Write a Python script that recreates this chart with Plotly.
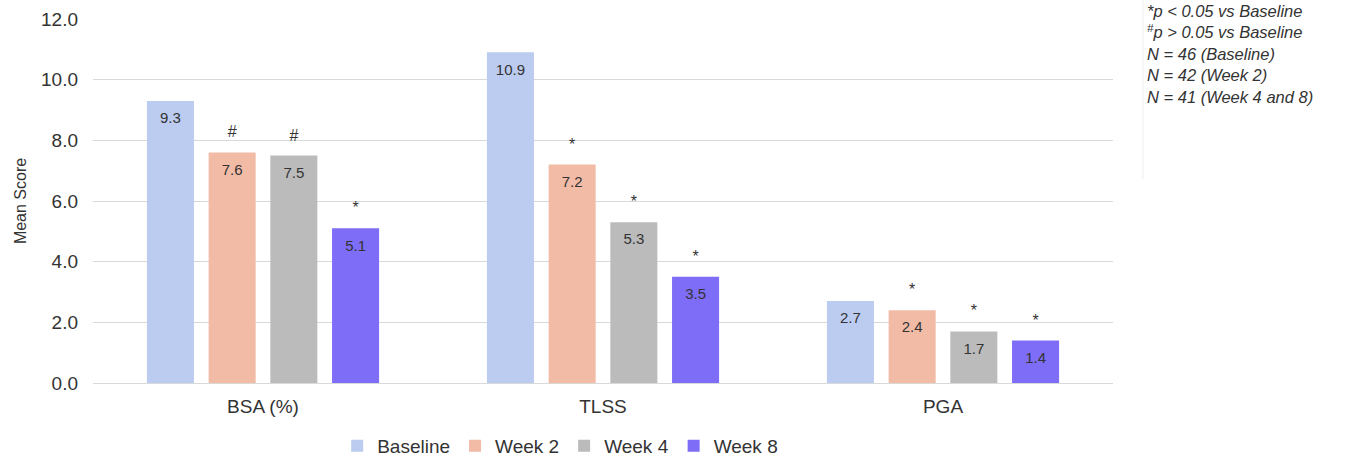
import plotly.graph_objects as go

categories = ["BSA (%)", "TLSS", "PGA"]
series_names = ["Baseline", "Week 2", "Week 4", "Week 8"]
baseline = [9.3, 10.9, 2.7]
week2 = [7.6, 7.2, 2.4]
week4 = [7.5, 5.3, 1.7]
week8 = [5.1, 3.5, 1.4]
sig_baseline = ["", "", ""]
sig_week2 = ["#", "*", "*"]
sig_week4 = ["#", "*", "*"]
sig_week8 = ["*", "*", "*"]
y_ticks = [0, 2, 4, 6, 8, 10, 12]
note_lines = [
    "*p < 0.05 vs Baseline",
    "<sup>#</sup>p > 0.05 vs Baseline",
    "N = 46 (Baseline)",
    "N = 42 (Week 2)",
    "N = 41 (Week 4 and 8)",
]

colors = ["#BCCBF0", "#F2BBA6", "#BBBBBB", "#7E6DF6"]
values = [baseline, week2, week4, week8]
sigs = [sig_baseline, sig_week2, sig_week4, sig_week8]

FONT = "Liberation Sans, Arial, sans-serif"
GAP = 0.274
fig = go.Figure()
for i, (name, vals) in enumerate(zip(series_names, values)):
    fig.add_trace(go.Bar(
        name=name, x=categories, y=vals, offsetgroup=str(i),
        marker=dict(color=colors[i], line=dict(width=0)),
        hoverinfo="skip",
    ))
# value labels inside bars, near the top
for i, vals in enumerate(values):
    fig.add_trace(go.Scatter(
        x=categories, y=vals, offsetgroup=str(i), mode="markers+text",
        marker=dict(size=16, opacity=0),
        text=[f"{v:.1f}" for v in vals], textposition="bottom center",
        textfont=dict(size=15, color="#333333", family=FONT),
        showlegend=False, hoverinfo="skip",
    ))
# significance symbols above bars
for i, (vals, s) in enumerate(zip(values, sigs)):
    fig.add_trace(go.Scatter(
        x=categories, y=vals, offsetgroup=str(i), mode="markers+text",
        marker=dict(size=16, opacity=0),
        text=s, textposition="top center",
        textfont=dict(size=16, color="#333333", family=FONT),
        showlegend=False, hoverinfo="skip",
    ))

fig.update_layout(
    width=1349, height=459,
    margin=dict(l=93, r=236, t=19, b=76),
    paper_bgcolor="white", plot_bgcolor="white",
    barmode="group", bargap=GAP, bargroupgap=0.238,
    scattermode="group", scattergap=GAP,
    font=dict(family=FONT, color="#333333", size=17),
    showlegend=True,
    legend=dict(orientation="h", x=0.458, xanchor="center",
                yref="container", y=1 - 446 / 459, yanchor="middle",
                font=dict(size=19, color="#333333"), traceorder="normal"),
    xaxis=dict(showgrid=False, showline=False, ticks="", ticklabelstandoff=10,
               automargin=False, tickfont=dict(size=19, color="#333333")),
    yaxis=dict(range=[0, 12], tickvals=y_ticks, tickformat=".1f",
               showgrid=True, gridcolor="#D9D9D9", gridwidth=1,
               zeroline=True, zerolinecolor="#D9D9D9", zerolinewidth=1,
               showline=False, ticks="", ticklabelstandoff=14, automargin=False,
               tickfont=dict(size=19, color="#333333"),
               title=dict(text="Mean Score", font=dict(size=16, color="#333333"), standoff=10)),
)

fig.add_annotation(
    text="<br>".join(f"<i>{t}</i>" for t in note_lines), xref="paper", yref="paper",
    x=(1145 - 93) / 1020, y=1 + 19 / 364, xanchor="left", yanchor="top",
    align="left", showarrow=False,
    font=dict(size=16.5, color="#333333", family=FONT),
)
fig.add_shape(type="line", xref="paper", yref="paper",
              x0=(1143 - 93) / 1020, x1=(1143 - 93) / 1020,
              y0=1 + 19 / 364, y1=1 - 160 / 364,
              line=dict(color="#EEEEEE", width=1))

fig.write_html("out.html")
